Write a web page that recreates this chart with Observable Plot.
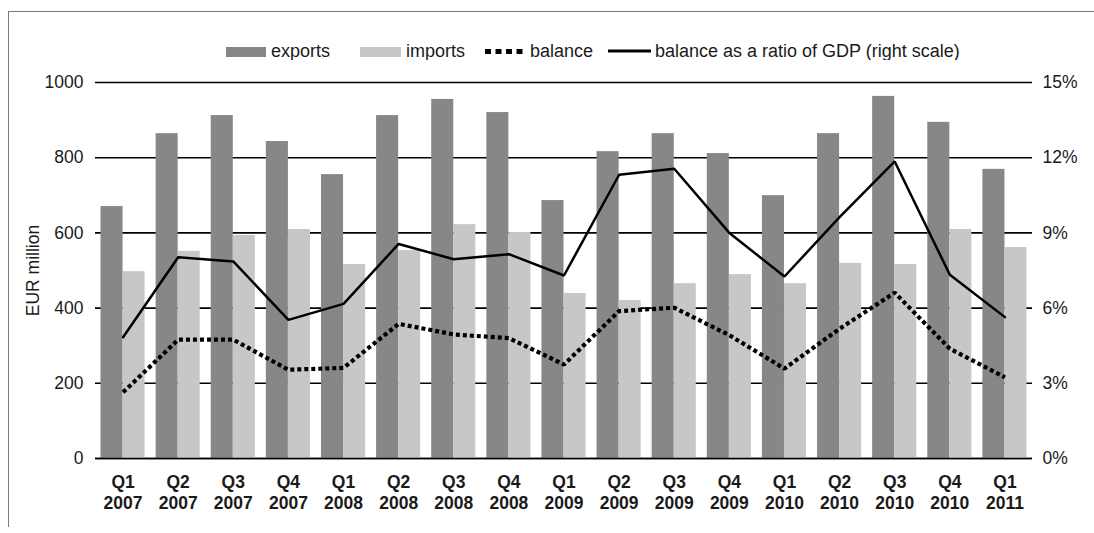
<!DOCTYPE html>
<html><head><meta charset="utf-8">
<script src="https://cdn.jsdelivr.net/npm/d3@7"></script>
<script src="https://cdn.jsdelivr.net/npm/@observablehq/plot@0.6"></script>
<style>
html,body{margin:0;padding:0;background:#fff;}
body{width:1094px;height:533px;position:relative;overflow:hidden;font-family:"Liberation Sans",Arial,sans-serif;}
#frame{position:absolute;left:8px;top:11px;right:0;bottom:6px;border-top:1px solid #7a7a7a;border-left:1px solid #7a7a7a;}
#legend{position:absolute;left:0;top:0;}
#chart{position:absolute;left:0;top:60px;}
</style></head><body>
<div id="frame"></div>
<svg id="legend" width="1094" height="60"></svg>
<div id="chart"></div>
<script>
// ---- data ----
const quarters = ["Q1 2007","Q2 2007","Q3 2007","Q4 2007","Q1 2008","Q2 2008","Q3 2008","Q4 2008",
  "Q1 2009","Q2 2009","Q3 2009","Q4 2009","Q1 2010","Q2 2010","Q3 2010","Q4 2010","Q1 2011"];
const exportsVals = [670,864,912,843,755,912,955,920,686,816,864,811,699,864,963,894,769];
const importsVals = [497,551,593,609,516,553,622,601,439,420,465,489,465,519,516,609,561];
const balanceVals = [176,316,316,236,241,358,330,320,250,392,401,328,239,345,441,292,216];
const ratioVals   = [4.84,8.03,7.86,5.53,6.17,8.56,7.95,8.15,7.30,11.32,11.56,9.0,7.26,9.63,11.85,7.33,5.64];
const leftTicks = [0,200,400,600,800,1000];
const rightTicks = [0,3,6,9,12,15];
const legendLabels = ["exports","imports","balance","balance as a ratio of GDP (right scale)"];
const yAxisLabel = "EUR million";

const expColor = "#878787", impColor = "#c6c7c8";
const data = quarters.map((q,i)=>({q, exp: exportsVals[i], imp: importsVals[i], bal: balanceVals[i], ratio: ratioVals[i]}));

const W=1094, H=460, ML=95, MR=62, MT=22, MB=62;
const pIn=0.2, pOut=0.1;
const bw = (W-ML-MR)/(quarters.length - pIn + 2*pOut)*(1-pIn);
const k = 1000/15; // right-scale % -> left-scale units

const chart = Plot.plot({
  width: W, height: H, marginLeft: ML, marginRight: MR, marginTop: MT, marginBottom: MB,
  style: {fontFamily: "'Liberation Sans', Arial, sans-serif", fontSize: "17.5px", color: "#1a1a1a", background: "transparent"},
  x: {type: "band", domain: quarters, paddingInner: pIn, paddingOuter: pOut, round: false},
  y: {domain: [0,1000]},
  marks: [
    Plot.ruleY(leftTicks, {stroke: "#000", strokeWidth: 1.6}),
    Plot.barY(data, {x: "q", y: "exp", fill: expColor, insetRight: bw/2}),
    Plot.barY(data, {x: "q", y: "imp", fill: impColor, insetLeft: bw/2}),
    Plot.ruleY([0], {stroke: "#000", strokeWidth: 1.6}),
    Plot.line(data, {x: "q", y: "bal", stroke: "#000", strokeWidth: 4.2, strokeDasharray: "4 3", strokeLinecap: "butt", strokeLinejoin: "miter"}),
    Plot.line(data, {x: "q", y: d => d.ratio*k, stroke: "#000", strokeWidth: 2.5, strokeLinejoin: "miter"}),
    Plot.axisY(leftTicks, {anchor: "left", tickSize: 0, tickPadding: 12, tickFormat: d => String(d), label: yAxisLabel, labelAnchor: "center", labelOffset: 69, labelArrow: "none"}),
    Plot.axisY(rightTicks.map(t => t*k), {anchor: "right", tickSize: 0, tickPadding: 10, tickFormat: d => Math.round(d/k) + "%", label: null}),
    Plot.axisX({tickSize: 0, tickPadding: 15, fontWeight: "bold", lineHeight: 1.2, tickFormat: d => d.replace(" ", "\n"), label: null})
  ]
});
document.getElementById("chart").appendChild(chart);

// ---- legend ----
const lg = d3.select("#legend").style("font-family", "'Liberation Sans', Arial, sans-serif").style("font-size", "18px");
const baseY = 56.5;
lg.append("rect").attr("x",226).attr("y",47).attr("width",40).attr("height",10).attr("fill",expColor);
lg.append("text").attr("x",271).attr("y",baseY).attr("fill","#1a1a1a").text(legendLabels[0]);
lg.append("rect").attr("x",360).attr("y",47).attr("width",41).attr("height",10).attr("fill",impColor);
lg.append("text").attr("x",406).attr("y",baseY).attr("fill","#1a1a1a").text(legendLabels[1]);
lg.append("line").attr("x1",485).attr("x2",523).attr("y1",51.5).attr("y2",51.5).attr("stroke","#000").attr("stroke-width",5).attr("stroke-dasharray","6 4.5");
lg.append("text").attr("x",530).attr("y",baseY).attr("fill","#1a1a1a").text(legendLabels[2]);
lg.append("line").attr("x1",608).attr("x2",651).attr("y1",51).attr("y2",51).attr("stroke","#000").attr("stroke-width",3);
lg.append("text").attr("x",655).attr("y",baseY).attr("fill","#1a1a1a").text(legendLabels[3]);
</script>
</body></html>
